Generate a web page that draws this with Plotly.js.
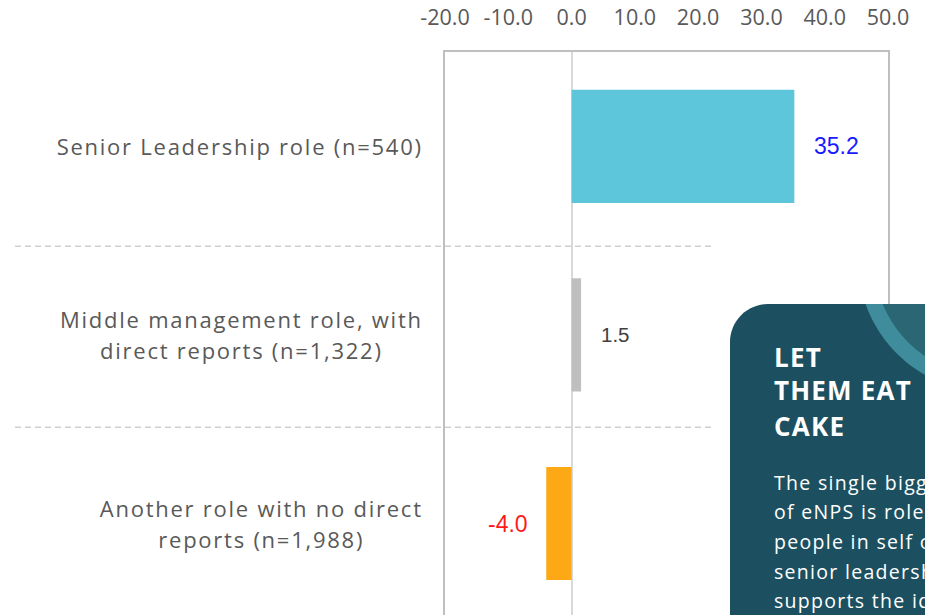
<!DOCTYPE html>
<html>
<head>
<meta charset="utf-8">
<script src="https://cdn.plot.ly/plotly-3.0.1.min.js"></script>
<style>
html,body{margin:0;padding:0;overflow:hidden;background:#fff;}
#chart{width:925px;height:615px;}
</style>
</head>
<body>
<div id="chart"></div>
<script>
// ---- data ----
const categories = [
  "Senior Leadership role (n=540)",
  "Middle management role, with<br>direct reports (n=1,322)",
  "Another role with no direct<br>reports (n=1,988)"
];
const values = [35.2, 1.5, -4.0];
const tickValues = [-20, -10, 0, 10, 20, 30, 40, 50];
const cardTitleLines = ["LET", "THEM EAT", "CAKE"];
const cardBodyLines = [
  "The single biggest driver",
  "of eNPS is role level:",
  "people in self or team",
  "senior leadership roles",
  "supports the idea that"
];

// ---- styles ----
const barColors = ["#5ec6da", "#bfbfbf", "#fca915"];
const labelColors = ["#1a1aff", "#404040", "#ff1a1a"];

const W = 925, H = 615, ML = 445, MR = 37, MT = 52, MB = 0;
const PW = W - ML - MR, PH = H - MT - MB;
function px2paperX(px){ return (px - ML) / PW; }
function px2paperY(py){ return (H - MB - py) / PH; }
function pathFrom(points){
  return "M " + points.map(p => px2paperX(p[0]).toFixed(5) + "," + px2paperY(p[1]).toFixed(5)).join(" L ") + " Z";
}

// card with rounded top-left corner
const cardL = 730, cardT = 304, cardR = 940, cardB = 625, rad = 38;
const cardPts = [[cardL, cardB]];
for (let i = 0; i <= 16; i++) {
  const a = Math.PI - (Math.PI / 2) * (i / 16);
  cardPts.push([cardL + rad + rad * Math.cos(a), cardT + rad - rad * Math.sin(a)]);
}
cardPts.push([cardR, cardT], [cardR, cardB]);

function ringPath(cx, cy, r, topY){
  const pts = [];
  const n = 80;
  const h = Math.sqrt(r*r - (topY-cy)*(topY-cy));
  const aL = Math.atan2(topY - cy, -h);
  const aR = Math.atan2(topY - cy, h);
  for (let i = 0; i <= n; i++) {
    const a = aL + (aR - aL) * (i / n);
    pts.push([cx + r * Math.cos(a), cy + r * Math.sin(a)]);
  }
  return pts;
}
const ringOuter = ringPath(990, 260, 132, cardT);
const ringInner = ringPath(990, 260, 116, cardT);

const trace = {
  type: "bar",
  orientation: "h",
  x: values,
  y: [0, 1, 2],
  width: 0.6,
  marker: {color: barColors},
  hoverinfo: "skip",
  showlegend: false
};

const FONT = "Open Sans, sans-serif";
const annotations = [];
categories.forEach((c, i) => {
  annotations.push({
    xref: "paper", yref: "y", x: px2paperX(421), y: i,
    xanchor: "right", yanchor: "middle", align: "center",
    text: c, showarrow: false,
    font: {family: FONT, size: 22, color: "#595959"}
  });
});
values.forEach((v, i) => {
  annotations.push({
    xref: "x", yref: "y", x: v, y: i,
    xanchor: v >= 0 ? "left" : "right", yanchor: "middle",
    xshift: v >= 0 ? 18 : -16,
    text: v.toFixed(1), showarrow: false,
    font: {family: "Liberation Sans, Arial, sans-serif", size: i === 1 ? 20.5 : 23, color: labelColors[i]}
  });
});
const titleY = [357, 390, 426];
cardTitleLines.forEach((t, i) => {
  annotations.push({
    xref: "paper", yref: "paper", x: px2paperX(773), y: px2paperY(titleY[i]),
    xanchor: "left", yanchor: "middle", text: "<b>" + t + "</b>", showarrow: false,
    font: {family: FONT, size: 26, color: "#ffffff"}
  });
});
const bodyY = [482, 511, 541, 571, 600];
cardBodyLines.forEach((t, i) => {
  annotations.push({
    xref: "paper", yref: "paper", x: px2paperX(774), y: px2paperY(bodyY[i]),
    xanchor: "left", yanchor: "middle", text: t, showarrow: false,
    font: {family: FONT, size: 19.5, color: "#ffffff"}
  });
});

const dashLine = {color: "#cfcfcf", width: 1.5, dash: "6px,4px"};
const shapes = [
  {type: "line", xref: "paper", yref: "y", x0: px2paperX(15), x1: px2paperX(715), y0: 0.53, y1: 0.53, line: dashLine, layer: "below"},
  {type: "line", xref: "paper", yref: "y", x0: px2paperX(15), x1: px2paperX(715), y0: 1.49, y1: 1.49, line: dashLine, layer: "below"},
  {type: "path", xref: "paper", yref: "paper", path: pathFrom(cardPts), fillcolor: "#1c5060", line: {width: 0}, layer: "above"},
  {type: "path", xref: "paper", yref: "paper", path: pathFrom(ringOuter), fillcolor: "#3f8d9c", line: {width: 0}, layer: "above"},
  {type: "path", xref: "paper", yref: "paper", path: pathFrom(ringInner), fillcolor: "#2b6674", line: {width: 0}, layer: "above"}
];

const layout = {
  width: W, height: H,
  margin: {l: ML, r: MR, t: MT, b: MB, pad: 0},
  paper_bgcolor: "#ffffff", plot_bgcolor: "#ffffff",
  xaxis: {
    range: [-20, 50], side: "top",
    tickmode: "array", tickvals: tickValues, ticktext: tickValues.map(v => v.toFixed(1)),
    tickfont: {family: FONT, size: 21.5, color: "#595959"},
    ticks: "", ticklabelstandoff: 16,
    showgrid: false, zeroline: true, zerolinecolor: "#d9d9d9", zerolinewidth: 2,
    showline: true, linecolor: "#bfbfbf", linewidth: 2, mirror: false,
    fixedrange: true
  },
  yaxis: {
    range: [2.485, -0.5], showticklabels: false, ticks: "",
    showgrid: false, zeroline: false,
    showline: true, linecolor: "#bfbfbf", linewidth: 2, mirror: true,
    fixedrange: true
  },
  annotations: annotations,
  shapes: shapes,
  showlegend: false
};

// letter-spacing / line-height tweaks after render, keeping anchors
function adjust(idx, opt){
  const g = document.querySelector('g.annotation[data-index="' + idx + '"]');
  if (!g) return;
  const t = g.querySelector("text");
  if (!t) return;
  const b0 = t.getBoundingClientRect();
  const cy0 = b0.top + b0.height / 2;
  const ax0 = opt.anchor === "right" ? b0.right : b0.left;
  t.style.letterSpacing = opt.ls + "px";
  if (opt.lineH) {
    const fs = opt.fs;
    t.querySelectorAll("tspan.line").forEach(s => {
      const dy = s.getAttribute("dy");
      if (dy && dy.indexOf("em") > 0) {
        const v = parseFloat(dy);
        s.setAttribute("dy", (v * opt.lineH / (1.3 * fs)) + "em");
      }
    });
  }
  const b1 = t.getBoundingClientRect();
  const cy1 = b1.top + b1.height / 2;
  const ax1 = opt.anchor === "right" ? b1.right - opt.ls : b1.left;
  const target = opt.targetX !== undefined ? opt.targetX : ax0;
  const dx = target - ax1, dy = cy0 - cy1;
  const tr = t.getAttribute("transform") || "";
  t.setAttribute("transform", tr + " translate(" + dx + "," + dy + ")");
}

Plotly.newPlot("chart", [trace], layout, {displayModeBar: false, staticPlot: true}).then(() => {
  for (let i = 0; i < 3; i++) adjust(i, {ls: 1.75, lineH: 31, fs: 22, anchor: "right", targetX: 421});
  for (let i = 6; i < 9; i++) adjust(i, {ls: 1.2, anchor: "left", targetX: 774});
  for (let i = 9; i < 14; i++) adjust(i, {ls: 1.3, anchor: "left", targetX: 774});
});
</script>
</body>
</html>
